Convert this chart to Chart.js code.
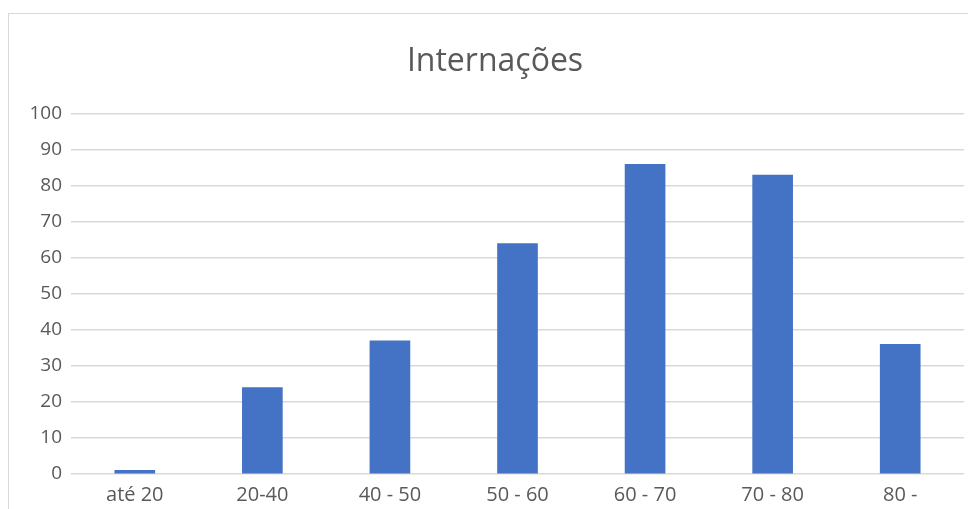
<!DOCTYPE html>
<html>
<head>
<meta charset="utf-8">
<script src="https://cdn.jsdelivr.net/npm/chart.js@4/dist/chart.umd.min.js"></script>
<style>
  html, body { margin: 0; padding: 0; background: #ffffff; }
  #wrap { position: relative; width: 968px; height: 509px; overflow: hidden; }
  #frame { position: absolute; left: 8px; top: 13px; width: 1000px; height: 600px; border: 1px solid #d9d9d9; box-sizing: border-box; }
  canvas { position: absolute; left: 0; top: 0; }
</style>
</head>
<body>
<div id="wrap">
  <div id="frame"></div>
  <canvas id="chart" width="968" height="509"></canvas>
</div>
<script>
// Hospital admissions by age group
const categories = ['até 20', '20-40', '40 - 50', '50 - 60', '60 - 70', '70 - 80', '80 -'];
const internacoes = [1, 24, 37, 64, 86, 83, 36];
const yTicks = [0, 10, 20, 30, 40, 50, 60, 70, 80, 90, 100];

const textColor = '#595959';
const gridColor = '#d9d9d9';
const barColor = '#4472c4';

new Chart(document.getElementById('chart'), {
  type: 'bar',
  data: {
    labels: categories,
    datasets: [{
      label: 'Internações',
      data: internacoes,
      backgroundColor: barColor,
      borderWidth: 0,
      barThickness: 40
    }]
  },
  options: {
    responsive: false,
    animation: false,
    devicePixelRatio: 1,
    layout: { padding: { left: 26, right: 4, top: 0, bottom: 0 } },
    plugins: {
      legend: { display: false },
      tooltip: { enabled: false },
      title: {
        display: true,
        text: 'Internações',
        color: textColor,
        font: { family: 'Open Sans', size: 32, weight: 'normal', lineHeight: 1.2 },
        padding: { top: 43, bottom: 32.6 }
      }
    },
    scales: {
      x: {
        grid: { display: false },
        border: { display: false },
        ticks: {
          color: textColor,
          font: { family: 'Open Sans', size: 20 },
          padding: 1,
          maxRotation: 0
        },
        afterFit: (s) => { s.height = 35; }
      },
      y: {
        min: 0,
        max: 100,
        afterBuildTicks: (s) => { s.ticks = yTicks.map(v => ({ value: v })); },
        grid: { color: gridColor, lineWidth: 1.5, drawTicks: false },
        border: { display: false },
        ticks: {
          color: textColor,
          font: { family: 'Open Sans', size: 19 },
          padding: 9
        },
        afterFit: (s) => { s.width = 45; }
      }
    }
  }
});
</script>
</body>
</html>
